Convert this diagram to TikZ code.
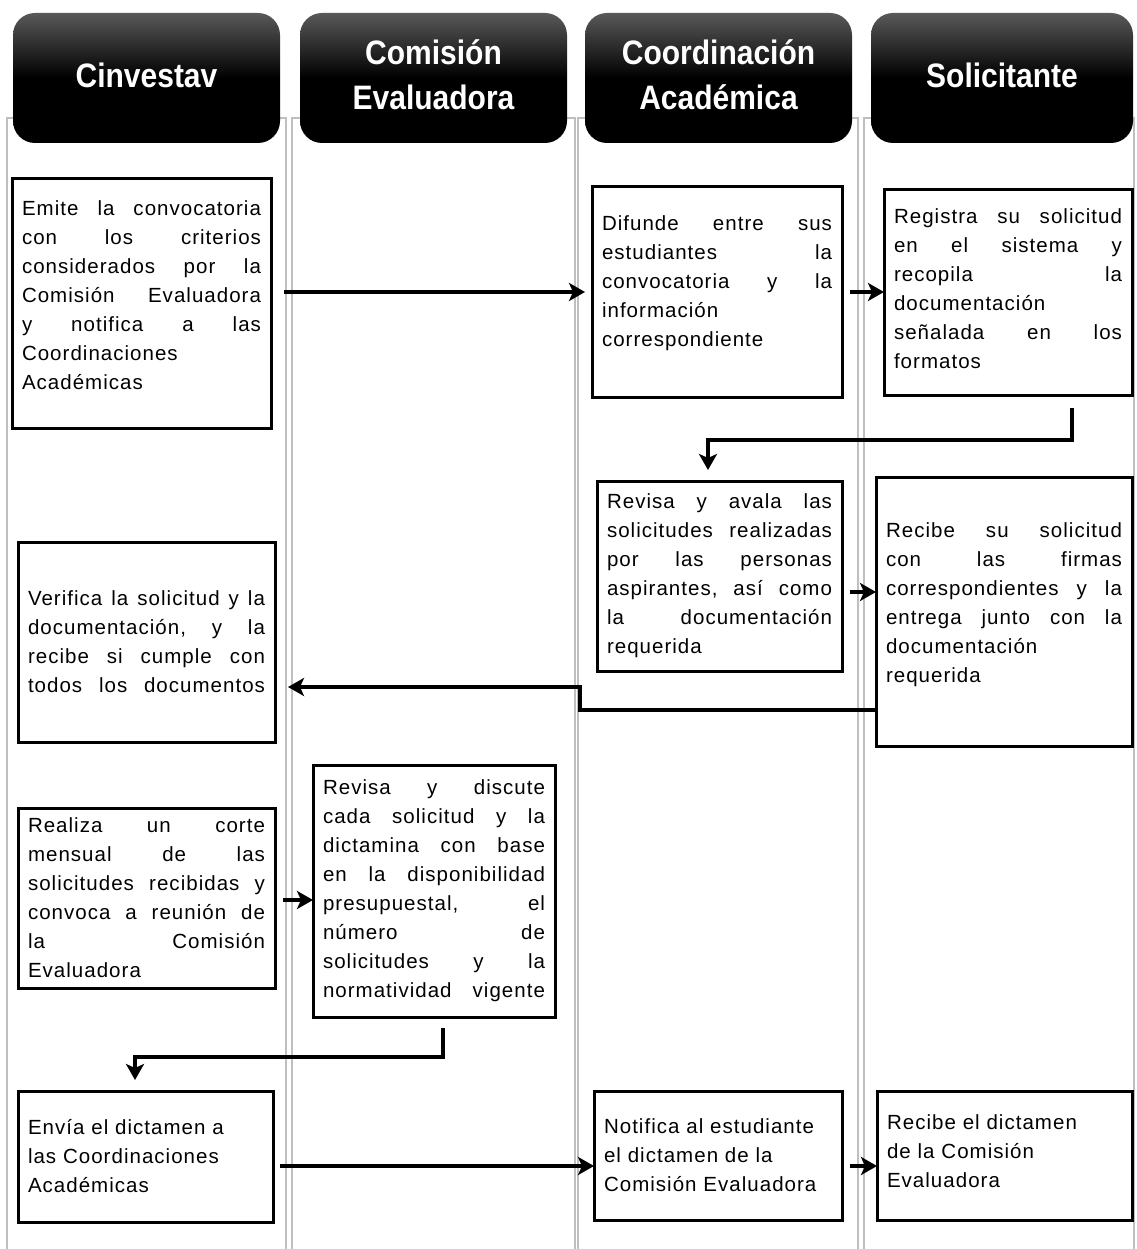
\documentclass[tikz,border=0pt]{standalone}
\usepackage{fontspec}
\setmainfont{Liberation Sans}
\newfontfamily\bodyfont{Liberation Sans}[LetterSpace=5]
\usetikzlibrary{arrows.meta}
\newcommand\hdrtext[1]{\scalebox{1}[1.13]{\begin{tabular}{@{}c@{}}#1\end{tabular}}}
\tikzset{
  lane/.style={draw=black!25, line width=1.5pt},
  hdr/.style={anchor=north west, rounded corners=22pt, inner sep=0pt, outer sep=0pt,
    top color=black!65, bottom color=black, middle color=black, text=white, align=center,
    font=\fontsize{30}{40}\selectfont\bfseries},
  box/.style={draw, line width=3pt, anchor=north west, inner xsep=10pt, inner ysep=0pt,
    outer sep=0pt, align=left, font=\bodyfont\fontsize{20.5}{29}\selectfont},
  arr/.style={line width=4.5pt, -{Stealth[length=16pt,width=18pt,inset=4pt]}}
}
\begin{document}
\begin{tikzpicture}[x=1pt,y=-1pt]
\useasboundingbox[fill=white] (0,0) rectangle (1136,1249);
% lanes
\foreach \a/\b in {7/286, 292/575, 578/858, 864/1134}{
  \draw[lane] (\a,1249) -- (\a,118) -- (\b,118) -- (\b,1249);
}
% headers
\node[hdr, minimum width=267pt, minimum height=130pt] (h1) at (13,13) {\hdrtext{Cinvestav}};
\node[hdr, minimum width=267pt, minimum height=130pt] (h2) at (300,13) {\hdrtext{Comisión\\Evaluadora}};
\node[hdr, minimum width=267pt, minimum height=130pt] (h3) at (585,13) {\hdrtext{Coordinación\\Académica}};
\node[hdr, minimum width=262pt, minimum height=130pt] (h4) at (871,13) {\hdrtext{Solicitante}};
% boxes
\node[box, text width=239pt, minimum height=249pt, text depth=190pt] (b1) at (12,179) {%
Emite\hfill la\hfill convocatoria\\
con\hfill los\hfill criterios\\
considerados\hfill por\hfill la\\
Comisión\hfill Evaluadora\\
y\hfill notifica\hfill a\hfill las\\
Coordinaciones\\
Académicas};
\node[box, text width=230pt, minimum height=210pt, text depth=137pt] (b2) at (592,187) {%
Difunde\hfill entre\hfill sus\\
estudiantes\hfill la\\
convocatoria\hfill y\hfill la\\
información\\
correspondiente};
\node[box, text width=228pt, minimum height=205pt, text depth=153pt] (b3) at (884,190) {%
Registra\hfill su\hfill solicitud\\
en\hfill el\hfill sistema\hfill y\\
recopila\hfill la\\
documentación\\
señalada\hfill en\hfill los\\
formatos};
\node[box, text width=225pt, minimum height=190pt] (b4) at (597,481) {%
Revisa\hfill y\hfill avala\hfill las\\
solicitudes\hfill realizadas\\
por\hfill las\hfill personas\\
aspirantes,\hfill así\hfill como\\
la\hfill documentación\\
requerida};
\node[box, text width=236pt, minimum height=269pt, text depth=162.5pt] (b5) at (876,477) {%
Recibe\hfill su\hfill solicitud\\
con\hfill las\hfill firmas\\
correspondientes\hfill y\hfill la\\
entrega\hfill junto\hfill con\hfill la\\
documentación\\
requerida};
\node[box, text width=237pt, minimum height=200pt] (b6) at (18,542) {%
Verifica\hfill la\hfill solicitud\hfill y\hfill la\\
documentación,\hfill y\hfill la\\
recibe\hfill si\hfill cumple\hfill con\\
todos\hfill los\hfill documentos};
\node[box, text width=237pt, minimum height=180pt] (b7) at (18,808) {%
Realiza\hfill un\hfill corte\\
mensual\hfill de\hfill las\\
solicitudes\hfill recibidas\hfill y\\
convoca\hfill a\hfill reunión\hfill de\\
la\hfill Comisión\\
Evaluadora};
\node[box, text width=222pt, minimum height=252pt] (b8) at (313,765) {%
Revisa\hfill y\hfill discute\\
cada\hfill solicitud\hfill y\hfill la\\
dictamina\hfill con\hfill base\\
en\hfill la\hfill disponibilidad\\
presupuestal,\hfill el\\
número\hfill de\\
solicitudes\hfill y\hfill la\\
normatividad\hfill vigente};
\node[box, text width=235pt, minimum height=131pt] (b9) at (18,1091) {%
Envía el dictamen a\\
las Coordinaciones\\
Académicas};
\node[box, text width=228pt, minimum height=129pt] (b10) at (594,1091) {%
Notifica al estudiante\\
el dictamen de la\\
Comisión Evaluadora};
\node[box, text width=235pt, minimum height=129pt, text depth=66.5pt] (b11) at (877,1091) {%
Recibe el dictamen\\
de la Comisión\\
Evaluadora};
% connectors
\draw[arr, shorten <=13pt, shorten >=7pt] (b1.east |- 0,292) -- (b2.west |- 0,292);
\draw[arr, shorten <=8pt] (b2.east |- 0,292) -- (b3.west |- 0,292);
\draw[arr, shorten <=13pt, shorten >=11pt] (b3.south -| 1072,0) -- (1072,440) -- (708,440) -- (b4.north -| 708,0);
\draw[arr, shorten <=8pt] (b4.east |- 0,592) -- (b5.west |- 0,592);
\draw[arr, shorten >=13pt] (b5.west |- 0,710) -- (580,710) -- (580,687) -- (b6.east |- 0,687);
\draw[arr, shorten <=8pt] (b7.east |- 0,900) -- (b8.west |- 0,900);
\draw[arr, shorten <=11pt, shorten >=11pt] (b8.south -| 443,0) -- (443,1057) -- (135,1057) -- (b9.north -| 135,0);
\draw[arr, shorten <=7pt] (b9.east |- 0,1166) -- (b10.west |- 0,1166);
\draw[arr, shorten <=8pt] (b10.east |- 0,1166) -- (b11.west |- 0,1166);
\end{tikzpicture}
\end{document}
